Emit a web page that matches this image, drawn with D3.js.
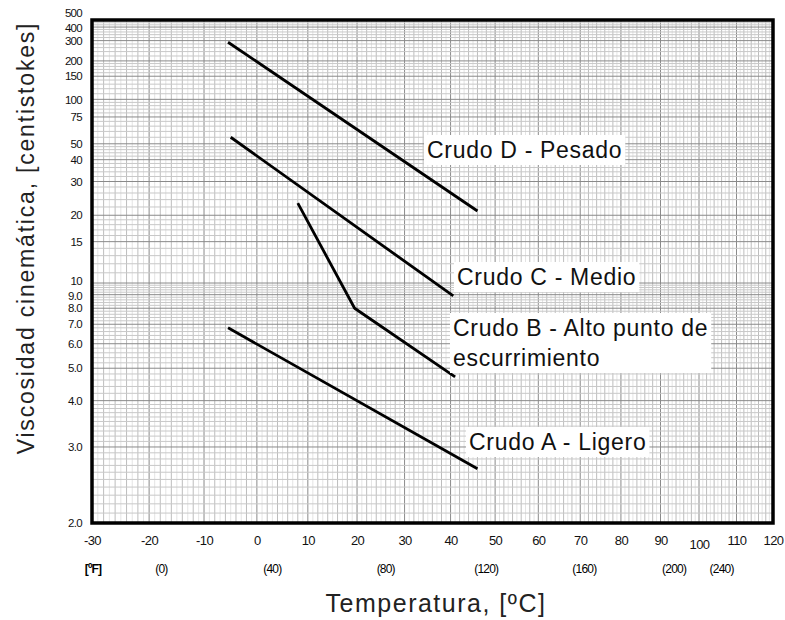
<!DOCTYPE html>
<html>
  <head>
    <meta charset="utf-8">
    <style>
      body { margin: 0; background: #fff; }
      text { font-family: "Liberation Sans", Arial, sans-serif; }
    </style>
  </head>
  <body>
    <svg id="chart"></svg>
  </body>
</html>

<script src="https://cdn.jsdelivr.net/npm/d3@7/dist/d3.min.js"></script>

<script>
  const WIDTH = 785
  const HEIGHT = 620

  // tick values and labels
  const xTicks = [-30, -20, -10, 0, 10, 20, 30, 40, 50, 60, 70, 80, 90, 100, 110, 120]
  const yTicks = [2, 3, 4, 5, 6, 7, 8, 9, 10, 15, 20, 30, 40, 50, 75, 100, 150, 200, 300, 400, 500]
  const yLabels = ['2.0', '3.0', '4.0', '5.0', '6.0', '7.0', '8.0', '9.0', '10', '15', '20',
                   '30', '40', '50', '75', '100', '150', '200', '300', '400', '500']
  // fahrenheit labels, placed where they sit on the picture (in ºC)
  const fTicksC = [-17.8, 3, 26, 48, 71, 93.5, 106]
  const fLabels = ['(0)', '(40)', '(80)', '(120)', '(160)', '(200)', '(240)']

  // crude oils: [temperature ºC, viscosity cSt]
  const crudoD = [[-5.5, 290], [46, 21]]
  const crudoC = [[-5, 55], [40.6, 8.9]]
  const crudoB = [[8, 23], [19.5, 8.0], [41, 4.7]]
  const crudoA = [[-5.5, 6.8], [46, 2.65]]
  const series = [crudoD, crudoC, crudoB, crudoA]

  const labelLines = [['Crudo D - Pesado'], ['Crudo C - Medio'],
                      ['Crudo B - Alto punto de', 'escurrimiento'], ['Crudo A - Ligero']]
  const labelPos = [[427, 158], [457, 285], [453, 336], [469, 450]]

  const LEFT = 92, RIGHT = 773, TOP = 20, BOTTOM = 523

  // ASTM style axes: log of absolute temperature, log-log of viscosity
  const K = 273.15
  const ll = v => Math.log10(Math.log10(v + 0.7))
  let xLog = d3.scaleLog().domain([-30 + K, 120 + K]).range([LEFT, RIGHT])
  let yLin = d3.scaleLinear().domain([ll(2), ll(500)]).range([BOTTOM, 17])
  const x = t => xLog(t + K)
  const y = v => yLin(ll(v))

  let svg = d3.select('#chart')
    .attr('width', WIDTH)
    .attr('height', HEIGHT)

  svg.append('clipPath').attr('id', 'clip')
    .append('rect')
    .attr('x', LEFT).attr('y', TOP)
    .attr('width', RIGHT - LEFT).attr('height', BOTTOM - TOP)

  let grid = svg.append('g').attr('clip-path', 'url(#clip)')

  // vertical grid lines
  for (let t = -30; t <= 120; t++) {
    let c = t % 10 == 0 ? '#8a8a8a' : (t % 2 == 0 ? '#bdbdbd' : '#e4e4e4')
    grid.append('line')
      .attr('x1', x(t)).attr('x2', x(t))
      .attr('y1', TOP).attr('y2', BOTTOM)
      .attr('stroke', c).attr('stroke-width', 1)
  }

  // horizontal grid lines
  let steps = [[2, 4, 0.1], [4, 10, 0.2], [10, 20, 1], [20, 50, 2], [50, 100, 5], [100, 200, 10], [200, 500, 20]]
  steps.forEach(function(s) {
    let n = Math.round((s[1] - s[0]) / s[2])
    for (let i = 0; i < n; i++) {
      let v = s[0] + i * s[2]
      let major = yTicks.some(tv => Math.abs(tv - v) < 1e-6)
      grid.append('line')
        .attr('x1', LEFT).attr('x2', RIGHT)
        .attr('y1', y(v)).attr('y2', y(v))
        .attr('stroke', major ? '#8a8a8a' : '#c8c8c8')
        .attr('stroke-width', 1)
    }
  })

  // crude oil lines
  let line = d3.line().x(d => x(d[0])).y(d => y(d[1]))
  svg.selectAll('path.crudo')
    .data(series)
    .enter()
    .append('path')
    .attr('class', 'crudo')
    .attr('d', line)
    .attr('fill', 'none')
    .attr('stroke', '#000')
    .attr('stroke-width', 2.8)
    .attr('stroke-linejoin', 'round')

  // frame
  svg.append('rect')
    .attr('x', LEFT).attr('y', TOP)
    .attr('width', RIGHT - LEFT).attr('height', BOTTOM - TOP)
    .attr('fill', 'none')
    .attr('stroke', '#000')
    .attr('stroke-width', 3.5)

  // labels with white boxes
  labelLines.forEach(function(lines, i) {
    let g = svg.append('g')
    let box = g.append('rect').attr('fill', '#fff')
    let txt = g.append('text')
      .attr('x', labelPos[i][0])
      .attr('y', labelPos[i][1])
      .attr('font-size', 23)
      .attr('letter-spacing', 0.7)
      .attr('fill', '#111')
    lines.forEach(function(l, j) {
      txt.append('tspan')
        .attr('x', labelPos[i][0])
        .attr('dy', j == 0 ? 0 : 30)
        .text(l)
    })
    let b = txt.node().getBBox()
    box.attr('x', b.x - 3).attr('y', b.y - 2)
      .attr('width', b.width + 6).attr('height', b.height + 4)
  })

  // y axis
  let yAxis = svg.append('g')
    .attr('transform', 'translate(' + (LEFT - 10) + ',0)')
    .call(d3.axisLeft(yLin)
      .tickValues(yTicks.map(ll))
      .tickFormat((d, i) => yLabels[i])
      .tickSize(0)
      .tickPadding(0))
  yAxis.select('.domain').remove()
  // small nudges where labels crowd, as on the original chart
  const nudge = {'500': -4, '400': 1, '10': -2, '9.0': 1}
  yAxis.selectAll('text')
    .attr('font-size', 11.5)
    .attr('fill', '#111')
    .attr('letter-spacing', -0.7)
    .attr('y', (d, i) => nudge[yLabels[i]] || 0)

  // x axis
  let xAxis = svg.append('g')
    .attr('transform', 'translate(0,' + (BOTTOM + 13) + ')')
    .call(d3.axisBottom(xLog)
      .tickValues(xTicks.map(t => t + K))
      .tickFormat((d, i) => xTicks[i])
      .tickSize(0)
      .tickPadding(0))
  xAxis.select('.domain').remove()
  xAxis.selectAll('text')
    .attr('font-size', 13)
    .attr('fill', '#111')
    .attr('letter-spacing', -0.6)
    .attr('dy', (d, i) => xTicks[i] == 100 ? '1.0em' : '0.71em')

  // fahrenheit row
  svg.append('text')
    .attr('x', 93).attr('y', 573)
    .attr('text-anchor', 'middle')
    .attr('font-size', 12)
    .attr('font-weight', 'bold')
    .attr('letter-spacing', -0.8)
    .text('[ºF]')
  svg.selectAll('text.f')
    .data(fTicksC)
    .enter()
    .append('text')
    .attr('class', 'f')
    .attr('x', d => x(d))
    .attr('y', 573)
    .attr('text-anchor', 'middle')
    .attr('font-size', 12)
    .attr('letter-spacing', -0.8)
    .text((d, i) => fLabels[i])

  // axis titles
  svg.append('text')
    .attr('transform', 'translate(34,238) rotate(-90)')
    .attr('text-anchor', 'middle')
    .attr('font-size', 23)
    .attr('letter-spacing', 1.8)
    .attr('fill', '#222')
    .text('Viscosidad cinemática, [centistokes]')

  svg.append('text')
    .attr('x', 436).attr('y', 612)
    .attr('text-anchor', 'middle')
    .attr('font-size', 25)
    .attr('letter-spacing', 1.5)
    .attr('fill', '#222')
    .text('Temperatura, [ºC]')
</script>
